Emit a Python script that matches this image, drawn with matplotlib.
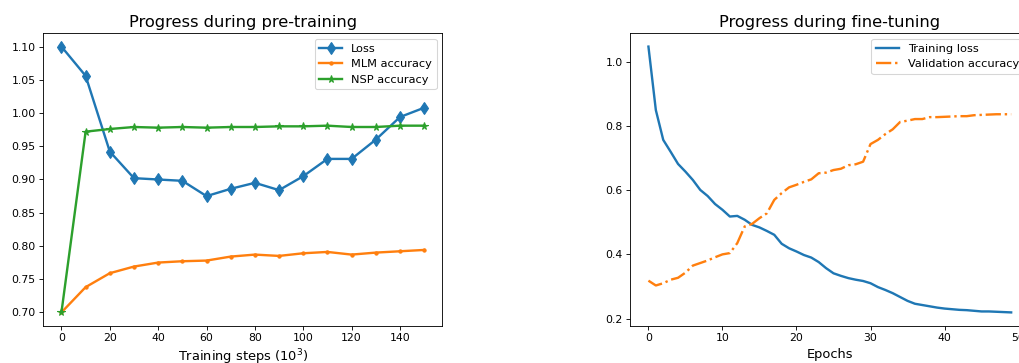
import matplotlib
matplotlib.use("Agg")
import matplotlib.pyplot as plt

# pre-training progress, sampled every 10k steps
steps = [0, 10, 20, 30, 40, 50, 60, 70, 80, 90, 100, 110, 120, 130, 140, 150]
loss = [1.100, 1.056, 0.942, 0.902, 0.900, 0.898, 0.875, 0.886, 0.895, 0.884,
        0.905, 0.931, 0.931, 0.960, 0.994, 1.008]
mlm_acc = [0.700, 0.738, 0.759, 0.769, 0.775, 0.777, 0.778, 0.784, 0.787, 0.785,
           0.789, 0.791, 0.787, 0.790, 0.792, 0.794]
nsp_acc = [0.700, 0.972, 0.976, 0.979, 0.978, 0.979, 0.978, 0.979, 0.979, 0.980,
           0.980, 0.981, 0.979, 0.979, 0.981, 0.981]

# fine-tuning progress per epoch
epochs = list(range(50))
train_loss = [1.048, 0.850, 0.757, 0.720, 0.682, 0.658, 0.632, 0.601, 0.582, 0.557,
              0.539, 0.518, 0.520, 0.508, 0.492, 0.484, 0.473, 0.461, 0.433, 0.419,
              0.409, 0.398, 0.390, 0.376, 0.357, 0.341, 0.333, 0.326, 0.321, 0.317,
              0.310, 0.298, 0.289, 0.279, 0.267, 0.255, 0.246, 0.242, 0.238, 0.234,
              0.231, 0.229, 0.227, 0.226, 0.224, 0.222, 0.222, 0.221, 0.220, 0.219]
val_acc = [0.318, 0.303, 0.310, 0.321, 0.327, 0.343, 0.365, 0.373, 0.381, 0.391,
           0.400, 0.404, 0.435, 0.487, 0.495, 0.513, 0.528, 0.570, 0.591, 0.609,
           0.617, 0.626, 0.634, 0.653, 0.655, 0.663, 0.667, 0.678, 0.681, 0.689,
           0.744, 0.757, 0.775, 0.790, 0.813, 0.817, 0.822, 0.822, 0.828, 0.828,
           0.829, 0.830, 0.831, 0.831, 0.834, 0.835, 0.836, 0.837, 0.837, 0.837]

fig = plt.figure(figsize=(1019 / 78, 363 / 78), dpi=78)
W, H = 1019, 363

# left panel: pre-training
ax1 = fig.add_axes([43.3 / W, (H - 325.7) / H, 399 / W, 292.4 / H])
ax1.plot(steps, loss, marker='d', markersize=8, lw=2.2, label='Loss')
ax1.plot(steps, mlm_acc, marker='.', markersize=6, lw=2.2, label='MLM accuracy')
ax1.plot(steps, nsp_acc, marker='*', markersize=7, lw=2.2, label='NSP accuracy')
ax1.set_title('Progress during pre-training', fontsize=15)
ax1.set_xlabel('Training steps ($10^3$)', fontsize=12)
ax1.legend(loc='upper right', fontsize=10.5)

# right panel: fine-tuning
ax2 = fig.add_axes([630.3 / W, (H - 325.7) / H, 399 / W, 292.4 / H])
ax2.plot(epochs, train_loss, lw=2.2, label='Training loss')
ax2.plot(epochs, val_acc, '-.', lw=2.2, label='Validation accuracy')
ax2.set_title('Progress during fine-tuning', fontsize=15)
ax2.set_xlabel('Epochs', fontsize=12)
ax2.legend(loc='upper right', fontsize=10.5)

fig.savefig('out.png', dpi=78)
